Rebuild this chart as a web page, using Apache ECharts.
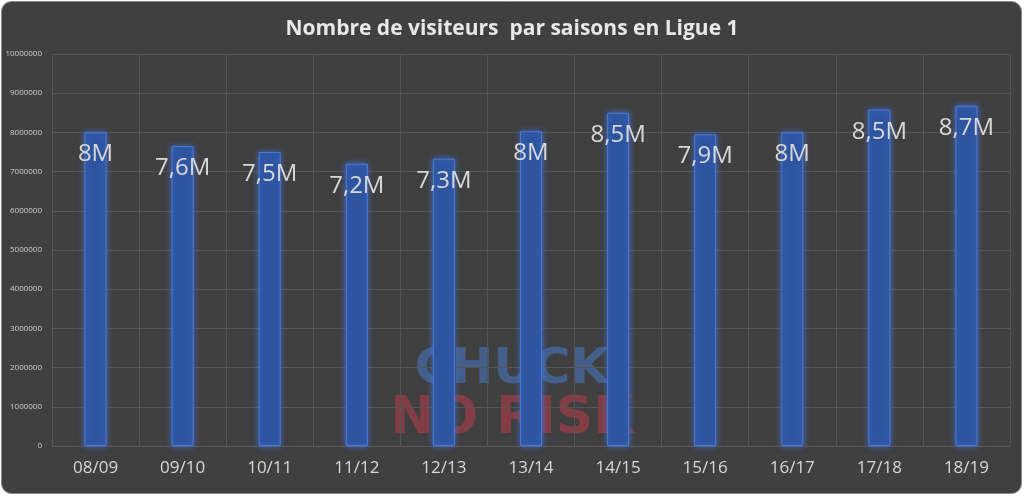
<!DOCTYPE html><html><head><meta charset="utf-8"><script src="https://cdn.jsdelivr.net/npm/echarts@6/dist/echarts.min.js"></script>
<style>body{margin:0;background:#fff}#c{width:1024px;height:496px}</style></head><body><div id="c"></div><script>
const categories=['08/09','09/10','10/11','11/12','12/13','13/14','14/15','15/16','16/17','17/18','18/19'];
const visitors=[8000000,7650000,7500000,7200000,7330000,8030000,8500000,7950000,8000000,8580000,8680000];
const labels=['8M','7,6M','7,5M','7,2M','7,3M','8M','8,5M','7,9M','8M','8,5M','8,7M'];
const ch=echarts.init(document.getElementById('c'));
ch.setOption({
backgroundColor:'#ffffff',
graphic:[{type:'rect',left:1,top:1,shape:{width:1020,height:492,r:10},style:{fill:'#404040',stroke:'#8a8a8a',lineWidth:1},z:-10},
{type:'text',left:'center',top:345,style:{text:'CHUCK',font:'bold 50px "DejaVu Sans"',fill:'rgba(70,110,170,0.7)'},z:0},
{type:'text',left:'center',top:393,style:{text:'NO RISK',font:'bold 52px "DejaVu Sans"',fill:'rgba(160,60,70,0.7)'},z:0}],
title:{text:'Nombre de visiteurs  par saisons en Ligue 1',left:'center',top:14,textStyle:{color:'#e8e8e8',fontSize:21,fontWeight:'bold',fontFamily:'Open Sans'}},
grid:{left:52,right:14,top:54,bottom:50},
xAxis:{type:'category',data:categories,axisLine:{lineStyle:{color:'#5a5a5a'}},axisTick:{show:false},
 splitLine:{show:true,lineStyle:{color:'#555'}},axisLabel:{color:'#d8d8d8',fontSize:17,margin:14,fontFamily:'Open Sans'}},
yAxis:{type:'value',min:0,max:10000000,interval:1000000,axisLabel:{color:'#cfcfcf',fontSize:8,margin:10,fontFamily:'Open Sans',formatter:v=>String(v)},
 splitLine:{lineStyle:{color:'#555'}},axisLine:{show:false}},
series:[{type:'bar',data:visitors,barWidth:22,z:5,
 itemStyle:{color:'#2f55a0',borderColor:'#4a7ad6',borderWidth:1,shadowColor:'rgba(70,120,230,0.8)',shadowBlur:6},
 label:{show:true,position:'insideTop',distance:10,color:'#d8d8d8',fontSize:24,fontFamily:'Open Sans',formatter:p=>labels[p.dataIndex]}}]
});
</script></body></html>
